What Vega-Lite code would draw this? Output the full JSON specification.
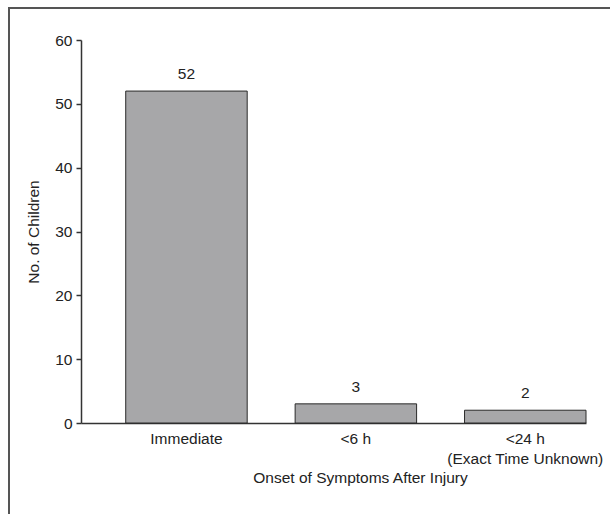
{
  "$schema": "https://vega.github.io/schema/vega-lite/v6.json",
  "autosize": {"type": "none"},
  "width": 505,
  "height": 383,
  "padding": {"left": 81, "top": 40, "right": 24, "bottom": 91},
  "background": "white",
  "config": {
    "view": {"stroke": null},
    "font": "Liberation Sans",
    "axis": {
      "labelFont": "Liberation Sans",
      "titleFont": "Liberation Sans",
      "labelColor": "#222",
      "titleColor": "#222",
      "titleFontWeight": "normal",
      "domainColor": "#333",
      "tickColor": "#333",
      "grid": false
    }
  },
  "data": {
    "values": [
      {"onset": "Immediate", "children": 52},
      {"onset": "<6 h", "children": 3},
      {"onset": "<24 h (Exact Time Unknown)", "children": 2}
    ]
  },
  "encoding": {
    "x": {
      "field": "onset",
      "type": "nominal",
      "sort": null,
      "scale": {"paddingInner": 0.283, "paddingOuter": 0.132, "align": 1},
      "axis": {
        "title": "Onset of Symptoms After Injury",
        "titleFontSize": 15.5,
        "titleX": 279,
        "titleY": 62,
        "titleBaseline": "bottom",
        "labelAngle": 0,
        "labelFontSize": 15.5,
        "labelPadding": 8,
        "labelLineHeight": 20,
        "ticks": false,
        "domainWidth": 1.5,
        "labelExpr": "indexof(datum.label, '(') > 0 ? [substring(datum.label, 0, indexof(datum.label, '(') - 1), substring(datum.label, indexof(datum.label, '('))] : datum.label"
      }
    },
    "y": {
      "field": "children",
      "type": "quantitative",
      "scale": {"domain": [0, 60]},
      "axis": {
        "title": "No. of Children",
        "titleFontSize": 15.5,
        "titlePadding": 13,
        "labelFontSize": 15.5,
        "labelPadding": 4,
        "tickSize": 5,
        "values": [0, 10, 20, 30, 40, 50, 60],
        "labelOverlap": false,
        "domainWidth": 1.5,
        "tickWidth": 1.5
      }
    }
  },
  "layer": [
    {
      "mark": {"type": "bar", "fill": "#a7a7a9", "stroke": "#2a2a2a", "strokeWidth": 1}
    },
    {
      "mark": {"type": "text", "baseline": "bottom", "dy": -9, "fontSize": 15.5, "color": "#222", "font": "Liberation Sans"},
      "encoding": {
        "text": {"field": "children", "type": "quantitative"}
      }
    },
    {
      "data": {"values": [{}]},
      "mark": {"type": "rect", "fill": null, "stroke": "#555", "strokeWidth": 2, "clip": false},
      "encoding": {
        "x": {"value": -72},
        "x2": {"value": 560},
        "y": {"value": -32},
        "y2": {"value": 500}
      }
    }
  ]
}
